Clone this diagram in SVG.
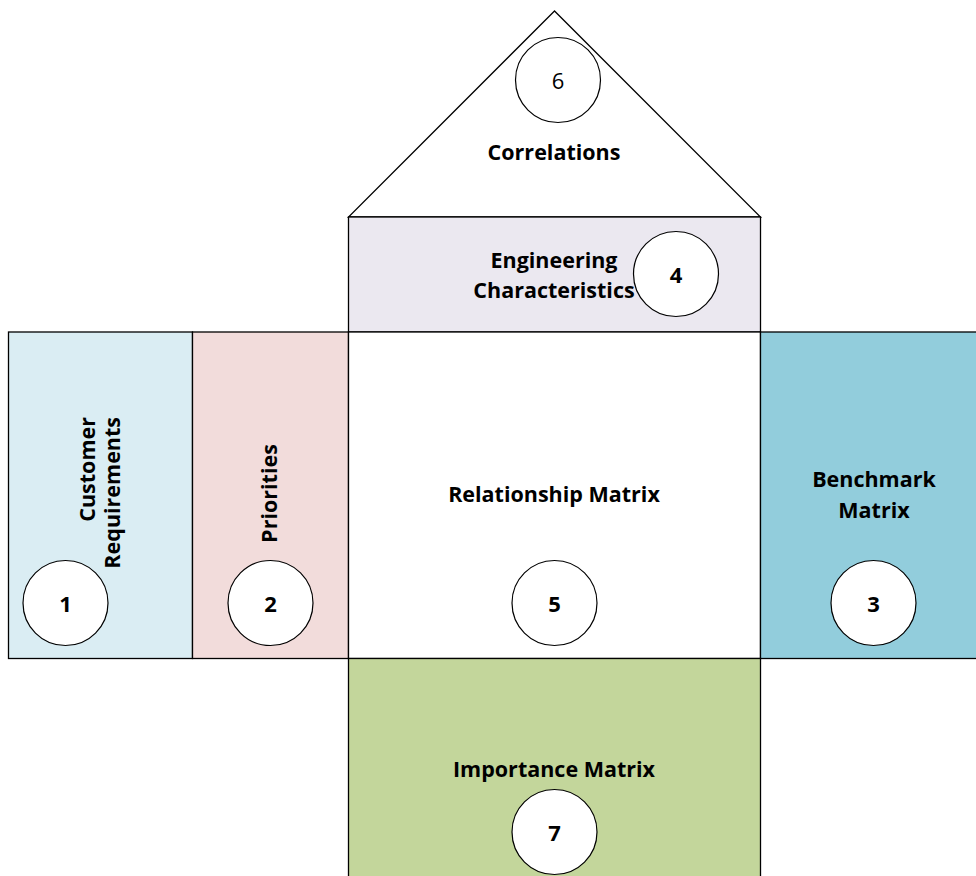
<svg xmlns="http://www.w3.org/2000/svg" width="976" height="876" viewBox="0 0 976 876">
<style>
.box{stroke:#000;stroke-width:1.3}
.c{fill:#fff;stroke:#000;stroke-width:1.2}
.t{font-family:"Open Sans","Liberation Sans",sans-serif;font-weight:bold;font-size:21.5px;fill:#000;text-anchor:middle}
.n{font-family:"Open Sans","Liberation Sans",sans-serif;font-weight:bold;font-size:22px;fill:#000;text-anchor:middle}
.n6{font-weight:normal}
</style>
<rect width="976" height="876" fill="#fff"/>
<g id="roof">
<polygon points="554.5,11 348.5,217 760.5,217" fill="#fff" class="box"/>
<circle cx="558" cy="80" r="42.5" class="c"/>
<text x="558" y="88.5" class="n n6">6</text>
<text x="554" y="159.5" class="t">Correlations</text>
</g>
<g id="engineering">
<rect x="348.5" y="217" width="412" height="115" fill="#EBE8F0" class="box"/>
<text x="554" y="268" class="t">Engineering</text>
<text x="554" y="298" class="t">Characteristics</text>
<circle cx="676" cy="274" r="42.5" class="c"/>
<text x="676" y="282.5" class="n">4</text>
</g>
<g id="customer">
<rect x="8.5" y="332" width="184" height="326.5" fill="#DAEDF3" class="box"/>
<text transform="translate(95,417) rotate(-90)" class="t" style="text-anchor:end">Customer</text>
<text transform="translate(120,417) rotate(-90)" class="t" style="text-anchor:end">Requirements</text>
<circle cx="65.5" cy="603" r="42.5" class="c"/>
<text x="65.5" y="611.5" class="n">1</text>
</g>
<g id="priorities">
<rect x="192.5" y="332" width="156" height="326.5" fill="#F2DCDB" class="box"/>
<text transform="translate(277,493.5) rotate(-90)" class="t">Priorities</text>
<circle cx="270.5" cy="603" r="42.5" class="c"/>
<text x="270.5" y="611.5" class="n">2</text>
</g>
<g id="relationship">
<rect x="348.5" y="332" width="412" height="326.5" fill="#fff" class="box"/>
<text x="554" y="502" class="t">Relationship Matrix</text>
<circle cx="554.5" cy="603" r="42.5" class="c"/>
<text x="554.5" y="611.5" class="n">5</text>
</g>
<g id="benchmark">
<rect x="760.5" y="332" width="220" height="326.5" fill="#92CDDC" class="box"/>
<text x="874" y="487" class="t">Benchmark</text>
<text x="874" y="518" class="t">Matrix</text>
<circle cx="873.5" cy="603" r="42.5" class="c"/>
<text x="873.5" y="611.5" class="n">3</text>
</g>
<g id="importance">
<rect x="348.5" y="658.5" width="412" height="230" fill="#C3D69B" class="box"/>
<text x="554" y="777" class="t">Importance Matrix</text>
<circle cx="554.5" cy="832" r="42.5" class="c"/>
<text x="554.5" y="840.5" class="n">7</text>
</g>
<g id="connectors"></g>
</svg>
